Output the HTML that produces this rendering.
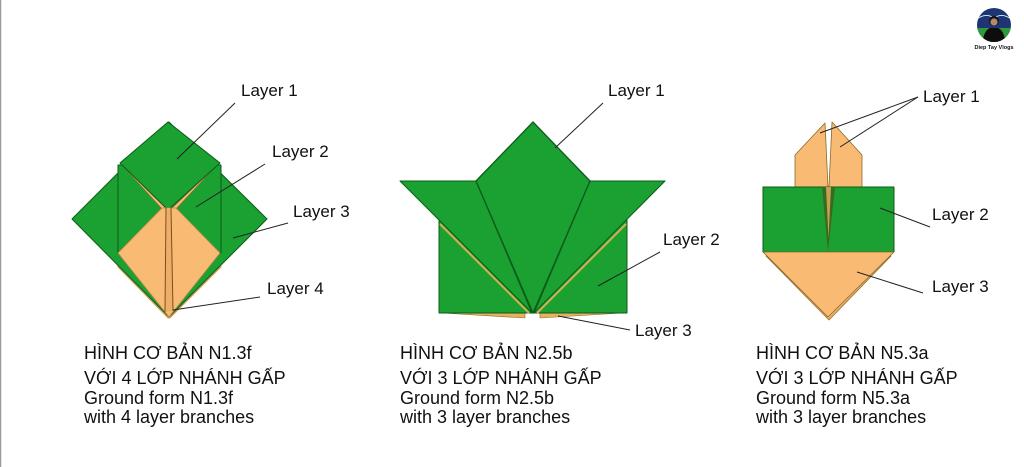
<!DOCTYPE html>
<html><head><meta charset="utf-8"><style>
html,body{margin:0;padding:0;background:#fff;}
svg{display:block;}
text{font-family:"Liberation Sans","Noto Sans CJK SC",sans-serif;fill:#111;}
.lb{font-size:17px;}
.tb{font-size:18px;}
</style></head><body>
<svg width="1024" height="467" viewBox="0 0 1024 467" xmlns="http://www.w3.org/2000/svg">
<rect width="1024" height="467" fill="#fff"/>
<line x1="0.5" y1="0" x2="0.5" y2="467" stroke="#9a9a9a" stroke-width="1.5"/>

<!-- Figure 1 -->
<g stroke-linejoin="round">
  <line x1="118" y1="266" x2="169" y2="318" stroke="#d9a860" stroke-width="2.5"/>
  <line x1="221" y1="266" x2="169" y2="318" stroke="#d9a860" stroke-width="2.5"/>
  <polygon points="72,219 169,122 267,219 169,317" fill="#1ba032" stroke="#0d5c1a" stroke-width="1"/>
  <polygon points="118,165 221,165 221,253 118,253" fill="#1ba032" stroke="#0d5c1a" stroke-width="1"/>
  <polygon points="121,164 168,210 163,210" fill="#f9bb74" stroke="#8a6a2a" stroke-width="0.6"/>
  <polygon points="218,164 170,210 175,210" fill="#f9bb74" stroke="#8a6a2a" stroke-width="0.6"/>
  <polygon points="168,122 220,163 168,210 120,163" fill="#1ba032" stroke="#0d5c1a" stroke-width="1"/>
  <polygon points="118,253 162,208 176,208 220,253 169,317" fill="#f9bb74" stroke="#b9884a" stroke-width="0.8"/>
  <polygon points="166,208 171,208 173,311 165,312" fill="#efae68"/>
  <line x1="166" y1="208" x2="165" y2="312" stroke="#7a5020" stroke-width="1"/>
  <line x1="171" y1="208" x2="173" y2="311" stroke="#7a5020" stroke-width="1"/>
</g>
<g stroke="#222" stroke-width="1">
  <line x1="235" y1="103" x2="177" y2="159"/>
  <line x1="265" y1="164" x2="196" y2="207"/>
  <line x1="288" y1="223" x2="233" y2="238"/>
  <line x1="260" y1="297" x2="173" y2="310"/>
</g>
<text class="lb" x="241" y="96">Layer 1</text>
<text class="lb" x="272" y="157">Layer 2</text>
<text class="lb" x="293" y="217">Layer 3</text>
<text class="lb" x="267" y="294">Layer 4</text>

<text class="tb" x="84" y="359">HÌNH CƠ BẢN N1.3f</text>
<text class="tb" x="84" y="384">VỚI 4 LỚP NHÁNH GẤP</text>
<text class="tb" x="84" y="404">Ground form N1.3f</text>
<text class="tb" x="84" y="423">with 4 layer branches</text>

<!-- Figure 2 -->
<g stroke-linejoin="round">
  <polygon points="442,313 525,313 525,318" fill="#e9b060" stroke="#8a6a2a" stroke-width="0.6"/>
  <polygon points="540,313 623,313 540,318" fill="#e9b060" stroke="#8a6a2a" stroke-width="0.6"/>
  <polygon points="439,218 627,218 627,313 439,313" fill="#1ba032" stroke="#0d5c1a" stroke-width="1"/>
  <line x1="440" y1="224" x2="529" y2="313" stroke="#d2b050" stroke-width="2"/>
  <line x1="626" y1="224" x2="537" y2="313" stroke="#d2b050" stroke-width="2"/>
  <polygon points="400,181 476,181 532,313" fill="#1ba032" stroke="#0d5c1a" stroke-width="1"/>
  <polygon points="665,181 590,181 534,313" fill="#1ba032" stroke="#0d5c1a" stroke-width="1"/>
  <polygon points="533,122 590,181 533,313 476,181" fill="#1ba032" stroke="#0d5c1a" stroke-width="1.3"/>
</g>
<g stroke="#222" stroke-width="1">
  <line x1="603" y1="103" x2="555" y2="148"/>
  <line x1="660" y1="252" x2="598" y2="286"/>
  <line x1="630" y1="330" x2="558" y2="316"/>
</g>
<text class="lb" x="608" y="96">Layer 1</text>
<text class="lb" x="663" y="245">Layer 2</text>
<text class="lb" x="635" y="336">Layer 3</text>

<text class="tb" x="400" y="359">HÌNH CƠ BẢN N2.5b</text>
<text class="tb" x="400" y="384">VỚI 3 LỚP NHÁNH GẤP</text>
<text class="tb" x="400" y="404">Ground form N2.5b</text>
<text class="tb" x="400" y="423">with 3 layer branches</text>

<!-- Figure 3 -->
<g stroke-linejoin="round">
  <polygon points="766,256 891,256 829,320" fill="#f0b068" stroke="#8a6a2a" stroke-width="0.8"/>
  <polygon points="825,123 828,187 795,187 795,155" fill="#f9bb74" stroke="#8a6a2a" stroke-width="0.8"/>
  <polygon points="832,122 862,155 862,187 829,187" fill="#f9bb74" stroke="#8a6a2a" stroke-width="0.8"/>
  <polygon points="763,187 894,187 894,252 763,252" fill="#1ba032" stroke="#0d5c1a" stroke-width="1"/>
  <polygon points="822,187 835,187 828,252" fill="#3a6a22"/>
  <polygon points="826,187 831,187 828.5,238" fill="#c9a050"/>
  <polygon points="763,252 894,252 828,317" fill="#f9bb74" stroke="#8a6a2a" stroke-width="0.8"/>
</g>
<g stroke="#222" stroke-width="1">
  <line x1="918" y1="97" x2="820" y2="133"/>
  <line x1="918" y1="97" x2="840" y2="147"/>
  <line x1="930" y1="227" x2="880" y2="208"/>
  <line x1="923" y1="293" x2="857" y2="272"/>
</g>
<text class="lb" x="923" y="102">Layer 1</text>
<text class="lb" x="932" y="220">Layer 2</text>
<text class="lb" x="932" y="292">Layer 3</text>

<text class="tb" x="756" y="359">HÌNH CƠ BẢN N5.3a</text>
<text class="tb" x="756" y="384">VỚI 3 LỚP NHÁNH GẤP</text>
<text class="tb" x="756" y="404">Ground form N5.3a</text>
<text class="tb" x="756" y="423">with 3 layer branches</text>

<!-- Logo -->
<defs><clipPath id="lc"><circle cx="994" cy="25" r="17"/></clipPath></defs>
<circle cx="994" cy="25" r="17" fill="#1f3474"/>
<g clip-path="url(#lc)">
  <rect x="975" y="28" width="40" height="20" fill="#2e9a3a"/>
  <path d="M976 20 Q985 12 994 18 Q1003 12 1012 20" stroke="#cfe" stroke-width="0.8" fill="none"/>
  <path d="M982 44 Q984 30 990 28 L998 28 Q1004 30 1006 44 Z" fill="#0d0d0d"/>
  <circle cx="994" cy="21" r="5" fill="#151515"/>
  <circle cx="994" cy="22" r="3.6" fill="#b08870"/>
</g>
<text x="994" y="49" text-anchor="middle" style="font-size:5.5px;font-weight:bold;">Diep Tay Vlogs</text>
</svg>
</body></html>
